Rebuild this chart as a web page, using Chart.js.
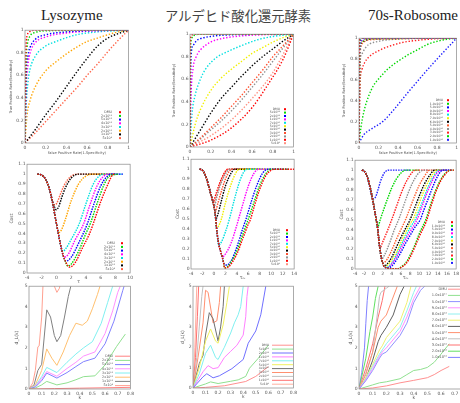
<!DOCTYPE html>
<html>
<head>
<meta charset="utf-8">
<script src="https://cdn.jsdelivr.net/npm/chart.js@4.4.1/dist/chart.umd.min.js"></script>
<style>
html, body { margin: 0; padding: 0; background: #fff; width: 460px; height: 403px; overflow: hidden; position: relative; }
canvas { position: absolute; }
.ttl { position: absolute; white-space: nowrap; color: #222; line-height: 1; }
</style>
</head>
<body>
<div class="ttl" style="left:41px;top:8px;font-family:'Liberation Serif';font-size:15px">Lysozyme</div>
<div class="ttl" style="left:165px;top:9px;font-family:'Noto Sans CJK JP';font-size:13.3px;color:#444">アルデヒド酸化還元酵素</div>
<div class="ttl" style="left:368px;top:8px;font-family:'Liberation Serif';font-size:15px">70s-Robosome</div>
<script>
// tick labels
var rocTicks = [0, 0.2, 0.4, 0.6, 0.8, 1];
var costTicks = [0, 0.1, 0.2, 0.3, 0.4, 0.5, 0.6, 0.7, 0.8, 0.9, 1, 1.1];
var tauTicks4 = [-4, -2, 0, 2, 4, 6, 8, 10];
var tauTicks5 = [-4, -2, 0, 2, 4, 6, 8, 10, 12, 14];
var tauTicks6 = [-4, -2, 0, 2, 4, 6, 8, 10, 12, 14, 16, 18];
var dlTicks = [0, 1, 2, 3, 4, 5];
var kTicks = [0, 0.1, 0.2, 0.3, 0.4, 0.5, 0.6, 0.7, 0.8];

// legend labels
var lysLabels = ['DMU', '2x10¹¹', '5x10¹⁰', '4x10¹⁰', '3x10¹⁰', '2x10¹⁰', '1x10¹⁰', '5x10⁹'];
var aldLabels = ['DMU', '5x10¹¹', '2x10¹¹', '1x10¹¹', '7x10¹⁰', '5x10¹⁰', '4x10¹⁰', '3x10¹⁰', '2x10¹⁰', '1x10¹⁰', '5x10⁹'];
var ribLabels = ['DMU', '1.0x10¹²', '5.0x10¹¹', '9.0x10¹⁰', '8.0x10¹⁰', '7.0x10¹⁰', '6.0x10¹⁰', '5.0x10¹⁰', '4.0x10¹⁰', '3.0x10¹⁰', '2.0x10¹⁰', '1.0x10¹⁰'];

// colours
var lysColors = ['#ff0000', '#00d800', '#0000ff', '#ff00ff', '#00e0e0', '#ffa500', '#000000', '#ff6347'];
var aldColors = ['#ff0000', '#00d800', '#0000ff', '#ff00ff', '#00e0e0', '#f0f000', '#000000', '#ff5030', '#909090', '#ff0000', '#ff9080'];
var ribColors = ['#ff0000', '#00d800', '#0000ff', '#ff00ff', '#00e0e0', '#f0f000', '#000000', '#ff6030', '#909090', '#ff2020', '#00d800', '#2020ff'];
var lysLine = ['#ff8080', '#90e090', '#8080ff', '#ff90ff', '#80f0f0', '#ffc070', '#808080', '#ffa090'];
var aldLine = ['#ff9090', '#90e090', '#7070ff', '#ff80ff', '#80f0f0', '#f0f060', '#707070', '#ff9070', '#c0c0c0', '#ff7070', '#ffb0a0'];
var ribLine = ['#ff9090', '#90e090', '#9090ff', '#ff90ff', '#90f0f0', '#f0f070', '#606060', '#ff9070', '#c0c0c0', '#ff7070', '#60e060', '#8080ff'];

// ROC curves [FPR, TPR]
var lysRoc = [
  [[0,0],[0.005,0.6],[0.01,0.85],[0.02,0.95],[0.05,0.99],[0.1,1],[1,1]],
  [[0,0],[0.01,0.7],[0.02,0.85],[0.05,0.95],[0.1,0.98],[0.2,0.995],[1,1]],
  [[0,0],[0.01,0.55],[0.03,0.78],[0.05,0.85],[0.1,0.92],[0.2,0.96],[0.4,0.985],[0.6,0.995],[1,1]],
  [[0,0],[0.01,0.45],[0.03,0.7],[0.05,0.8],[0.1,0.89],[0.2,0.94],[0.4,0.975],[0.7,0.995],[1,1]],
  [[0,0],[0.01,0.3],[0.03,0.55],[0.05,0.66],[0.1,0.77],[0.2,0.86],[0.3,0.9],[0.5,0.96],[0.7,0.985],[1,1]],
  [[0,0],[0.02,0.25],[0.05,0.38],[0.1,0.5],[0.2,0.64],[0.3,0.72],[0.4,0.79],[0.5,0.85],[0.6,0.9],[0.7,0.93],[0.8,0.96],[0.9,0.985],[1,1]],
  [[0,0],[0.1,0.12],[0.2,0.25],[0.3,0.37],[0.4,0.5],[0.5,0.63],[0.6,0.75],[0.7,0.86],[0.8,0.93],[0.9,0.97],[1,1]],
  [[0,0],[0.1,0.09],[0.2,0.19],[0.3,0.29],[0.4,0.39],[0.5,0.49],[0.6,0.6],[0.7,0.7],[0.8,0.81],[0.9,0.91],[1,1]]
];
var aldRoc = [
  [[0,0],[0.003,0.9],[0.01,0.98],[0.03,1],[1,1]],
  [[0,0],[0.005,0.85],[0.015,0.96],[0.04,0.99],[0.1,1],[1,1]],
  [[0,0],[0.01,0.8],[0.03,0.9],[0.06,0.94],[0.1,0.96],[0.2,0.98],[0.4,0.995],[1,1]],
  [[0,0],[0.01,0.45],[0.03,0.7],[0.06,0.8],[0.1,0.86],[0.2,0.93],[0.3,0.96],[0.5,0.985],[0.7,0.995],[1,1]],
  [[0,0],[0.02,0.3],[0.05,0.46],[0.1,0.6],[0.15,0.69],[0.25,0.79],[0.35,0.84],[0.5,0.9],[0.65,0.95],[0.8,0.98],[1,1]],
  [[0,0],[0.05,0.2],[0.1,0.33],[0.2,0.5],[0.3,0.61],[0.4,0.69],[0.5,0.76],[0.6,0.83],[0.7,0.88],[0.8,0.93],[0.9,0.97],[1,1]],
  [[0,0],[0.1,0.15],[0.2,0.3],[0.3,0.43],[0.4,0.53],[0.5,0.63],[0.6,0.72],[0.7,0.8],[0.8,0.87],[0.9,0.94],[1,1]],
  [[0,0],[0.1,0.08],[0.2,0.17],[0.3,0.26],[0.4,0.36],[0.5,0.46],[0.6,0.57],[0.7,0.68],[0.8,0.8],[0.9,0.9],[1,1]],
  [[0,0],[0.1,0.07],[0.2,0.15],[0.3,0.23],[0.4,0.32],[0.5,0.42],[0.6,0.53],[0.7,0.64],[0.8,0.76],[0.9,0.88],[1,1]],
  [[0,0],[0.2,0.06],[0.4,0.17],[0.6,0.35],[0.75,0.55],[0.9,0.78],[1,1]],
  [[0,0],[0.2,0.1],[0.4,0.24],[0.6,0.43],[0.8,0.66],[1,1]]
];
var ribRoc = [
  [[0,0],[0.003,0.95],[0.01,0.99],[0.03,1],[1,1]],
  [[0,0],[0.004,0.94],[0.012,0.985],[0.04,1],[1,1]],
  [[0,0],[0.005,0.93],[0.015,0.98],[0.05,1],[1,1]],
  [[0,0],[0.006,0.92],[0.02,0.975],[0.06,0.995],[1,1]],
  [[0,0],[0.007,0.91],[0.02,0.97],[0.07,0.995],[1,1]],
  [[0,0],[0.008,0.9],[0.025,0.965],[0.08,0.99],[1,1]],
  [[0,0],[0.01,0.88],[0.03,0.96],[0.08,0.985],[0.2,0.995],[1,1]],
  [[0,0],[0.012,0.86],[0.035,0.95],[0.1,0.985],[1,1]],
  [[0,0],[0.01,0.75],[0.03,0.85],[0.06,0.9],[0.1,0.94],[0.2,0.97],[0.3,0.985],[0.5,0.995],[1,1]],
  [[0,0],[0.01,0.55],[0.03,0.7],[0.06,0.77],[0.1,0.82],[0.2,0.88],[0.3,0.92],[0.45,0.96],[0.6,0.98],[0.8,0.995],[1,1]],
  [[0,0],[0.02,0.15],[0.05,0.3],[0.1,0.45],[0.15,0.55],[0.2,0.61],[0.3,0.71],[0.4,0.78],[0.5,0.84],[0.6,0.89],[0.7,0.94],[0.8,0.97],[0.9,0.99],[1,1]],
  [[0,0],[0.05,0.08],[0.12,0.13],[0.25,0.21],[0.35,0.31],[0.5,0.48],[0.75,0.75],[1,1]]
];

// cost curves: shared falling branch, then each series from its minimum
var lysCostLeft = [[-2.6,1],[-2,0.99],[-1.5,0.95],[-1,0.86],[-0.6,0.74],[-0.3,0.62],[0,0.5],[0.3,0.38],[0.6,0.27],[0.9,0.18],[1.2,0.12],[1.5,0.08]];
var lysCost = [
  [[1.75,0.06],[2.5,0.1],[3.5,0.25],[4.5,0.4],[5,0.5],[6,0.72],[7,0.9],[7.6,0.99],[8,1]],
  [[1.5,0.07],[2,0.09],[3,0.22],[4,0.4],[4.6,0.5],[5.5,0.7],[6.5,0.9],[7.2,0.98],[8.5,1]],
  [[1.3,0.12],[2,0.16],[3,0.3],[4.2,0.5],[5,0.68],[6,0.88],[6.8,0.97],[7.5,1],[9,1]],
  [[1.1,0.16],[1.6,0.19],[2.5,0.33],[3.7,0.5],[4.5,0.68],[5.5,0.88],[6.3,0.97],[7,1],[8.5,1]],
  [[0.87,0.22],[1.3,0.25],[2,0.34],[3.1,0.5],[4,0.7],[5,0.9],[5.8,0.98],[6.5,1],[9,1]],
  [[0.34,0.41],[0.7,0.44],[1.2,0.54],[2,0.73],[3,0.9],[4,0.98],[5,1],[8,1]],
  [[-0.02,0.64],[0.3,0.67],[0.7,0.76],[1.2,0.86],[2,0.96],[3,1],[8,1]],
  [[-0.24,0.69],[0,0.7],[0.5,0.79],[1,0.88],[1.5,0.94],[2,0.98],[3,1],[8,1]]
];
var aldCostLeft = [[-2.5,1],[-2,0.99],[-1.5,0.94],[-1,0.85],[-0.5,0.74],[-0.2,0.68],[0.1,0.6],[0.33,0.5],[0.44,0.42],[0.84,0.25],[1.2,0.17],[1.47,0.12],[1.7,0.06]];
var aldCost = [
  [[1.87,0.01],[2.5,0.02],[3,0.05],[4,0.15],[5,0.3],[6,0.45],[6.4,0.5],[7,0.62],[8,0.8],[9,0.93],[10,0.99],[10.5,1],[14,1]],
  [[1.87,0.01],[2.5,0.03],[3,0.07],[4,0.18],[5,0.34],[6,0.5],[7,0.67],[8,0.84],[9,0.95],[10,1],[13,1]],
  [[2.26,0.04],[3,0.08],[4,0.22],[5,0.4],[5.6,0.5],[6.5,0.67],[7.5,0.84],[8.5,0.96],[9.5,1],[13,1]],
  [[1.47,0.12],[2,0.15],[3,0.26],[4,0.44],[4.3,0.5],[5,0.64],[6,0.83],[7,0.96],[7.8,1],[12,1]],
  [[0.84,0.24],[1.3,0.27],[2,0.37],[2.7,0.5],[3.5,0.68],[4.5,0.88],[5.2,0.97],[5.8,1],[11,1]],
  [[0.44,0.41],[0.8,0.43],[1.3,0.5],[2,0.66],[3,0.85],[3.8,0.96],[4.4,1],[10,1]],
  [[0.33,0.5],[0.7,0.55],[1.2,0.66],[2,0.83],[3,0.96],[3.6,1],[9,1]],
  [[0.2,0.57],[0.7,0.66],[1.2,0.76],[2,0.9],[2.7,0.98],[3.2,1],[8,1]],
  [[0.05,0.63],[0.5,0.72],[1,0.82],[1.8,0.93],[2.5,0.99],[3,1],[8,1]],
  [[-0.1,0.68],[0.4,0.76],[1,0.86],[1.7,0.95],[2.4,1],[7,1]],
  [[0,0.66],[0.5,0.74],[1,0.84],[1.8,0.95],[2.6,1],[7,1]]
];
var ribCostLeft = [[-2.5,1],[-2,0.99],[-1.5,0.95],[-1,0.88],[-0.5,0.78],[0,0.66],[0.5,0.53],[0.9,0.42],[1.4,0.21],[1.8,0.1],[2.3,0.03],[3,0.01]];
var ribCost = [
  [[3.5,0.002],[5.5,0.002],[6,0.015],[7,0.05],[8,0.12],[9,0.22],[10,0.33],[11.5,0.48],[12.5,0.63],[13.5,0.77],[14.5,0.88],[15.5,0.95],[16.7,1],[17.5,1]],
  [[3.5,0.002],[5,0.002],[5.5,0.004],[6,0.02],[7,0.06],[8,0.14],[9,0.24],[10,0.36],[11.4,0.5],[12.5,0.66],[13.5,0.79],[14.5,0.89],[15.5,0.96],[16.9,1],[17.5,1]],
  [[3.2,0.01],[4,0.03],[5,0.09],[6,0.17],[7,0.26],[8,0.34],[9,0.42],[10.2,0.5],[11,0.6],[12,0.72],[13,0.84],[14,0.94],[15.1,1],[17,1]],
  [[3,0.01],[4,0.05],[5,0.12],[6,0.21],[7,0.3],[8,0.38],[9.5,0.5],[10.5,0.62],[11.5,0.75],[12.5,0.86],[13.5,0.95],[14.8,1],[17,1]],
  [[2.8,0.015],[4,0.06],[5,0.14],[6,0.24],[7,0.33],[8,0.42],[9.1,0.5],[10,0.6],[11,0.72],[12,0.84],[13,0.93],[14.4,1],[16.5,1]],
  [[2.5,0.02],[3.5,0.06],[5,0.17],[6,0.27],[7,0.37],[8,0.46],[8.6,0.5],[10,0.67],[11,0.79],[12,0.89],[13,0.96],[13.8,1],[16,1]],
  [[2.3,0.03],[3,0.05],[4,0.12],[5,0.22],[6,0.32],[7,0.41],[8,0.5],[9,0.62],[10,0.74],[11,0.85],[12,0.93],[13.4,1],[16,1]],
  [[2.1,0.06],[3,0.1],[4,0.19],[5,0.3],[6,0.4],[7,0.5],[8,0.62],[9,0.74],[10,0.85],[11,0.93],[12.3,1],[15,1]],
  [[1.8,0.1],[2.5,0.15],[3.5,0.26],[4.5,0.39],[5.5,0.5],[6.5,0.63],[7.5,0.76],[8.5,0.87],[9.5,0.95],[10.9,1],[14,1]],
  [[1.4,0.21],[2,0.27],[3,0.38],[4,0.5],[5,0.63],[6,0.76],[7,0.87],[8,0.95],[9.1,1],[12,1]],
  [[0.9,0.42],[1.5,0.5],[2,0.57],[3,0.7],[4,0.82],[5,0.91],[6,0.97],[7,1],[10,1]],
  [[-1,0.87],[-0.5,0.76],[0,0.71],[0.5,0.73],[1,0.8],[1.5,0.88],[2,0.94],[2.5,0.98],[3.5,1],[8,1]]
];

// d_L(k) curves [k, dL]
var lysDl = [
  [[0,0],[0.2,0.02],[0.4,0.04],[0.6,0.06],[0.8,0.08]],
  [[0,0],[0.05,0.05],[0.1,0.2],[0.14,0.37],[0.22,0.2],[0.3,0.3],[0.37,0.45],[0.43,0.6],[0.52,0.64],[0.6,1.17],[0.69,2.06],[0.76,2.67]],
  [[0,0],[0.05,0.1],[0.1,0.4],[0.14,0.77],[0.22,0.53],[0.3,0.8],[0.37,1.09],[0.43,1.33],[0.52,1.5],[0.6,2.2],[0.67,3.3],[0.74,4.8],[0.75,5]],
  [[0,0],[0.05,0.12],[0.1,0.5],[0.14,0.85],[0.22,0.62],[0.3,1.0],[0.37,1.3],[0.43,1.6],[0.52,1.8],[0.6,2.7],[0.66,3.8],[0.7,4.7],[0.72,5]],
  [[0,0],[0.05,0.15],[0.1,0.6],[0.14,1.05],[0.22,0.8],[0.3,1.3],[0.37,1.7],[0.43,2.0],[0.5,2.3],[0.57,3.2],[0.62,4.2],[0.66,5]],
  [[0,0],[0.05,0.2],[0.1,0.9],[0.14,1.95],[0.18,1.5],[0.22,1.15],[0.27,1.8],[0.32,2.6],[0.37,3.2],[0.42,3.1],[0.46,3.3],[0.5,3.9],[0.54,4.6],[0.56,5]],
  [[0,0],[0.04,0.2],[0.07,0.9],[0.1,1.2],[0.14,3.85],[0.17,3.5],[0.2,2.6],[0.22,2.3],[0.25,2.6],[0.28,3.5],[0.31,4.5],[0.33,5]],
  [[0,0],[0.03,0.3],[0.05,0.9],[0.07,2.05],[0.08,2.1],[0.1,3.5],[0.11,5],[0.13,6.5],[0.16,6],[0.2,5.0],[0.22,4.7],[0.24,4.9],[0.26,5.5]]
];
var aldDl = [
  [[0,0],[0.1,0.03],[0.25,0.11],[0.42,0.32],[0.5,0.57],[0.6,1.05]],
  [[0,0],[0.1,0.2],[0.14,0.3],[0.2,0.22],[0.3,0.33],[0.36,0.4],[0.42,0.57],[0.45,0.97],[0.52,1.46],[0.6,2.1]],
  [[0,0],[0.08,0.55],[0.11,0.7],[0.16,0.5],[0.21,0.6],[0.31,0.95],[0.4,1.4],[0.44,2.2],[0.5,2.8],[0.54,3.6],[0.58,5]],
  [[0,0],[0.08,0.8],[0.12,1.1],[0.16,0.95],[0.2,1.0],[0.25,1.5],[0.3,1.8],[0.35,2.1],[0.4,2.6],[0.42,3.5],[0.43,4.5],[0.44,5]],
  [[0,0],[0.05,0.7],[0.1,1.7],[0.14,2.1],[0.18,1.5],[0.2,1.4],[0.25,2.0],[0.3,2.7],[0.33,3.2],[0.36,3.6],[0.38,4.0],[0.4,5]],
  [[0,0],[0.05,1.0],[0.1,2.3],[0.14,2.9],[0.18,2.3],[0.2,2.2],[0.24,3.1],[0.27,4.2],[0.29,5]],
  [[0,0],[0.05,1.2],[0.08,1.6],[0.1,2.6],[0.13,3.7],[0.16,3.4],[0.2,2.3],[0.22,3.0],[0.24,4.0],[0.25,5]],
  [[0,0],[0.04,1.5],[0.08,3.2],[0.1,4.8],[0.12,4.7],[0.16,3.2],[0.19,3.3],[0.21,4.2],[0.22,5]],
  [[0,0],[0.03,1.5],[0.05,3],[0.07,4.5],[0.08,5]],
  [[0,0],[0.02,1.5],[0.035,3.5],[0.045,5]],
  [[0,0],[0.015,2],[0.03,5]]
];
var ribDl = [
  [[0,0],[0.1,0.05],[0.2,0.15],[0.3,0.3],[0.4,0.42],[0.5,0.55],[0.55,0.7],[0.6,0.9],[0.66,1.1]],
  [[0,0],[0.1,0.2],[0.15,0.3],[0.2,0.35],[0.3,0.5],[0.35,0.7],[0.4,0.9],[0.45,0.95],[0.5,1.05],[0.55,1.3],[0.6,1.7],[0.66,2.2]],
  [[0,0],[0.05,0.4],[0.1,0.9],[0.15,1.5],[0.17,1.7],[0.2,1.8],[0.3,2.6],[0.35,3.2],[0.4,4.2],[0.45,4.8],[0.48,5]],
  [[0,0],[0.05,0.45],[0.1,1.0],[0.15,1.6],[0.17,1.8],[0.2,2.0],[0.3,2.8],[0.35,3.5],[0.4,4.4],[0.45,5]],
  [[0,0],[0.05,0.5],[0.1,1.1],[0.15,1.7],[0.17,1.9],[0.2,2.2],[0.3,3.0],[0.35,3.8],[0.4,4.7],[0.42,5]],
  [[0,0],[0.05,0.55],[0.1,1.2],[0.15,1.9],[0.17,2.1],[0.2,2.5],[0.3,3.3],[0.35,4.2],[0.38,5]],
  [[0,0],[0.05,0.5],[0.1,1.4],[0.14,2.3],[0.16,2.6],[0.2,3.0],[0.25,3.6],[0.3,4.6],[0.33,5]],
  [[0,0],[0.05,0.7],[0.1,1.8],[0.14,3.0],[0.16,3.3],[0.2,3.6],[0.24,4.3],[0.28,5]],
  [[0,0],[0.05,0.8],[0.1,1.8],[0.15,4.5],[0.16,4.7],[0.2,4.9],[0.22,5]],
  [[0,0],[0.05,1.0],[0.1,2.2],[0.14,3.5],[0.17,4.3],[0.19,5]],
  [[0,0],[0.05,1.5],[0.08,2.8],[0.1,3.5],[0.12,4.4],[0.14,5]],
  [[0,0],[0.02,0.8],[0.04,2.0],[0.05,3.2],[0.06,4.3],[0.07,5]]
];

function withLeft(left, right) {
  return left.filter(function (p) { return p[0] < right[0][0] && p[1] > right[0][1]; }).concat(right);
}

var framePlugin = {
  id: 'frame',
  afterDraw: function (chart) {
    var a = chart.chartArea, ctx = chart.ctx;
    ctx.save();
    ctx.strokeStyle = '#888';
    ctx.lineWidth = 0.7;
    ctx.strokeRect(a.left, a.top, a.right - a.left, a.bottom - a.top);
    ctx.restore();
  }
};

var keyPlugin = {
  id: 'key',
  afterDatasetsDraw: function (chart, args, o) {
    var a = chart.chartArea, ctx = chart.ctx;
    ctx.save();
    ctx.font = o.size + 'px "DejaVu Sans"';
    ctx.textAlign = 'right';
    ctx.textBaseline = 'middle';
    chart.data.datasets.forEach(function (d, i) {
      var y = a.top + o.y + i * o.row;
      ctx.fillStyle = '#555';
      ctx.fillText(d.label, a.left + o.x, y);
      ctx.fillStyle = d.borderColor;
      ctx.strokeStyle = d.borderColor;
      if (o.line) {
        ctx.lineWidth = 1;
        ctx.beginPath();
        ctx.moveTo(a.left + o.mx, y);
        ctx.lineTo(a.left + o.mx2, y);
        ctx.stroke();
      } else {
        ctx.fillRect(a.left + o.mx - 1, y - 1, 2, 2);
      }
    });
    ctx.restore();
  }
};

function panel(p) {
  var L = p.box[0], T = p.box[1], R = p.box[2], B = p.box[3];
  var left = L - p.yW, top = T - 4, w = R - left + 3, h = B - top + 12;
  var cv = document.createElement('canvas');
  cv.width = w; cv.height = h;
  cv.style.left = left + 'px'; cv.style.top = top + 'px';
  cv.style.width = w + 'px'; cv.style.height = h + 'px';
  document.body.appendChild(cv);

  var sets = p.series.map(function (s, i) {
    var d = {
      label: p.labels[i],
      data: s.map(function (q) { return { x: q[0], y: q[1] }; }),
      borderColor: p.colors[i],
      backgroundColor: p.colors[i],
      pointRadius: 0,
      fill: false
    };
    if (p.dash) {
      d.borderWidth = 1.4;
      d.borderDash = p.dash;
      d.cubicInterpolationMode = 'monotone';
    } else {
      d.borderWidth = 1;
    }
    return d;
  });

  function axis(min, max, ticks, title, isX) {
    return {
      type: 'linear', min: min, max: max,
      afterBuildTicks: function (s) { s.ticks = ticks.map(function (v) { return { value: v }; }); },
      afterFit: function (s) { if (isX) s.height = 12; else s.width = p.yW; },
      grid: { display: false, drawTicks: false },
      border: { display: false },
      ticks: { font: { size: 4.5, family: 'DejaVu Sans' }, color: '#555', padding: isX ? 2 : 1.5, maxRotation: 0, autoSkip: false,
               callback: function (v) { return String(v); } },
      title: { display: !!title, text: title, font: { size: p.titleSize || 4.5, family: 'DejaVu Sans' }, color: '#555', padding: 0 }
    };
  }

  new Chart(cv, {
    type: 'line',
    data: { datasets: sets },
    options: {
      responsive: false,
      animation: false,
      devicePixelRatio: 1,
      layout: { padding: { top: 4, right: 3, left: 0, bottom: 0 } },
      plugins: { legend: { display: false }, tooltip: { enabled: false }, key: p.key },
      scales: {
        x: axis(p.x[0], p.x[1], p.xt, p.xTitle, true),
        y: axis(p.y[0], p.y[1], p.yt, p.yTitle, false)
      }
    },
    plugins: [framePlugin, keyPlugin]
  });
}

var rocX = 'False Positive Rate(1-Specificity)';
var rocY = 'True Positive Rate(Sensitivity)';
var rocDash = [1.4, 1.8];
var costDash = [1.5, 1.1];

// top row: ROC
panel({ box: [25, 30, 129, 143], yW: 16, x: [0, 1], y: [0, 1], xt: rocTicks, yt: rocTicks, xTitle: rocX, yTitle: rocY, titleSize: 3.6,
  series: lysRoc, labels: lysLabels, colors: lysColors, dash: rocDash,
  key: { x: 87, y: 82, row: 3.7, mx: 95, size: 3.3 } });
panel({ box: [190, 34, 294, 147], yW: 18, x: [0, 1], y: [0, 1], xt: rocTicks, yt: rocTicks, xTitle: '', yTitle: rocY, titleSize: 3.6,
  series: aldRoc, labels: aldLabels, colors: aldColors, dash: rocDash,
  key: { x: 90, y: 75, row: 3.4, mx: 95, size: 3.1 } });
panel({ box: [359, 38, 457, 143], yW: 17, x: [0, 1], y: [0, 1], xt: rocTicks, yt: rocTicks, xTitle: rocX, yTitle: rocY, titleSize: 3.6,
  series: ribRoc, labels: ribLabels, colors: ribColors, dash: rocDash,
  key: { x: 84, y: 62, row: 3.6, mx: 89, size: 3.1 } });

// middle row: cost
panel({ box: [27, 164, 132, 273], yW: 18, x: [-4, 10], y: [0, 1.1], xt: tauTicks4, yt: costTicks, xTitle: 'τ', yTitle: 'Cost',
  series: lysCost.map(function (r) { return withLeft(lysCostLeft, r); }), labels: lysLabels, colors: lysColors, dash: costDash,
  key: { x: 88, y: 79, row: 3.7, mx: 95, size: 3.3 } });
panel({ box: [191, 159, 296, 269], yW: 16, x: [-4, 14], y: [0, 1.1], xt: tauTicks5, yt: costTicks, xTitle: 'τᵣᵤ', yTitle: 'Cost',
  series: aldCost.map(function (r) { return withLeft(aldCostLeft, r); }), labels: aldLabels, colors: aldColors, dash: costDash,
  key: { x: 89, y: 71, row: 3.4, mx: 96, size: 3.1 } });
panel({ box: [355, 160, 458, 269], yW: 16, x: [-4, 18], y: [0, 1.1], xt: tauTicks6, yt: costTicks, xTitle: 'τᵣᵤ', yTitle: 'Cost',
  series: ribCost.map(function (r) { return withLeft(ribCostLeft, r); }), labels: ribLabels, colors: ribColors, dash: costDash,
  key: { x: 90, y: 62, row: 3.7, mx: 97, size: 3.1 } });

// bottom row: d_L(k)
panel({ box: [29, 286, 133, 389], yW: 15, x: [0, 0.8], y: [0, 5], xt: kTicks, yt: dlTicks, xTitle: 'k', yTitle: 'd_L(k)',
  series: lysDl, labels: lysLabels, colors: lysLine,
  key: { x: 84, y: 70, row: 4.2, mx: 86, mx2: 101, line: true, size: 3.3 } });
panel({ box: [193, 286, 296, 388], yW: 13, x: [0, 0.8], y: [0, 5], xt: kTicks, yt: dlTicks, xTitle: 'k', yTitle: 'd_L(k)',
  series: aldDl, labels: aldLabels, colors: aldLine,
  key: { x: 76, y: 59, row: 3.9, mx: 79, mx2: 100, line: true, size: 3.1 } });
panel({ box: [359, 286, 471, 389], yW: 11, x: [0, 0.8], y: [0, 5], xt: kTicks, yt: dlTicks, xTitle: 'k', yTitle: 'd_L(k)',
  series: ribDl, labels: ribLabels, colors: ribLine,
  key: { x: 88, y: 3, row: 6.2, mx: 89, mx2: 104, line: true, size: 3.6 } });
</script>
</body>
</html>
